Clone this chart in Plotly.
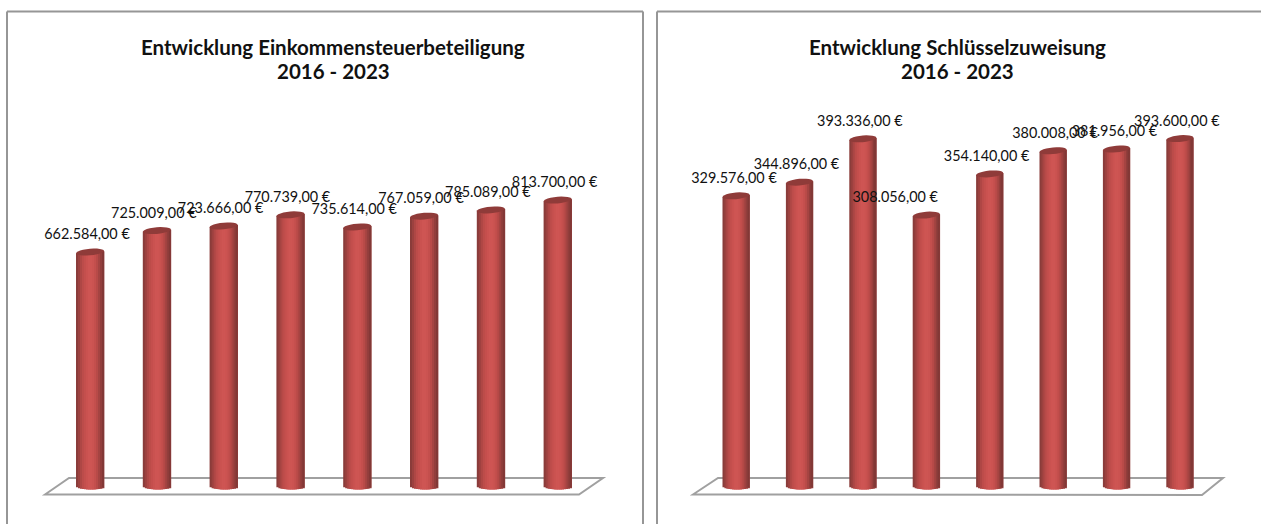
import math
import plotly.graph_objects as go

years = [2016, 2017, 2018, 2019, 2020, 2021, 2022, 2023]
# bar heights as drawn in the picture (the third left bar stands taller than its label says)
est_values = [662584, 725009, 738400, 770739, 735614, 767059, 785089, 813700]
szw_values = [329576, 344896, 393336, 308056, 354140, 380008, 381956, 393600]
est_labels = ["662.584,00 €", "725.009,00 €", "723.666,00 €", "770.739,00 €",
              "735.614,00 €", "767.059,00 €", "785.089,00 €", "813.700,00 €"]
szw_labels = ["329.576,00 €", "344.896,00 €", "393.336,00 €", "308.056,00 €",
              "354.140,00 €", "380.008,00 €", "381.956,00 €", "393.600,00 €"]
titles = [["Entwicklung Einkommensteuerbeteiligung", "2016 - 2023"],
          ["Entwicklung Schlüsselzuweisung", "2016 - 2023"]]

W, H = 1261, 524
FONT = "Lato"
GREY = "#a0a0a0"
FRAME = "#969696"
CAP = "#8f3b39"
TILT = 1.2
# colour across the cylinder, left edge to right edge
PROFILE = ["#8a3c3a", "#9c413f", "#ae4745", "#bc4c4a", "#c44f4d", "#ca5250", "#ce5553",
           "#ce5553", "#cb5351", "#c44f4d", "#b84a48", "#a54442", "#923e3c", "#823836"]

panels = [
    dict(vals=est_values, labels=est_labels, xa="x", ya="y", xd=[0, 0.5], x0=90, dx=66.8,
         zero=480, k=3.44e-4, barw=28, lab_dx=[-3] * 8, title_x=333),
    dict(vals=szw_values, labels=szw_labels, xa="x2", ya="y2", xd=[0.5, 1], x0=736, dx=63.4,
         zero=490.5, k=8.94e-4, barw=27, lab_dx=[-2, -3, -3, -31, -3, 2, -2, -3], title_x=957.5),
]

fig = go.Figure()
shapes = []
annotations = []

for idx, p in enumerate(panels):
    k = p["k"]
    n = len(PROFILE)
    w = p["barw"] / p["dx"]
    base_center = (p["zero"] - 486) / k
    drop = 3.5 / k
    for i, col in enumerate(PROFILE):
        t = (i + 0.5) / n * 2 - 1
        b = base_center - drop * math.sqrt(max(0, 1 - t * t))
        slice_w = w / n * (2.2 if i < n - 1 else 1.0)
        fig.add_bar(x=years, y=[v + TILT * t / k - b for v in p["vals"]], base=[b] * len(years),
                    width=slice_w, offset=-w / 2 + i * w / n,
                    marker=dict(color=col, line=dict(width=0)),
                    xaxis=p["xa"], yaxis=p["ya"], showlegend=False, hoverinfo="skip")
    for yr, v in zip(years, p["vals"]):
        pts = []
        for a in range(0, 360, 15):
            c, s = math.cos(math.radians(a)), math.sin(math.radians(a))
            pts.append("%.5f,%.1f" % (yr + w / 2 * c, v + (3.3 * s + TILT * c) / k))
        shapes.append(dict(type="path", xref=p["xa"], yref=p["ya"], layer="above",
                           path="M " + " L ".join(pts) + " Z",
                           fillcolor=CAP, line=dict(width=0)))
    fig.add_scatter(x=[yr + d / p["dx"] for yr, d in zip(years, p["lab_dx"])],
                    y=[v + 16.5 / k for v in p["vals"]],
                    text=p["labels"], mode="text", textposition="middle center",
                    textfont=dict(family=FONT, size=14.4, color="#111111"),
                    xaxis=p["xa"], yaxis=p["ya"], showlegend=False, cliponaxis=False, hoverinfo="skip")
    for line, py in zip(titles[idx], (47, 71)):
        annotations.append(dict(text="<b>%s</b>" % line, xref="paper", yref="paper",
                                x=p["title_x"] / W, y=1 - py / H, xanchor="center", yanchor="middle",
                                showarrow=False, align="center",
                                font=dict(family=FONT, size=20.5, color="#111111")))

def ppath(pts):
    return "M " + " L ".join("%.5f,%.5f" % (x / W, 1 - y / H) for x, y in pts) + " Z"

for pts in ([(45, 494.5), (69, 478), (603, 478), (579, 494.5)],
            [(693, 494.5), (718, 478), (1223, 478), (1202, 495)]):
    shapes.append(dict(type="path", xref="paper", yref="paper", layer="below", path=ppath(pts),
                       line=dict(color=GREY, width=2), fillcolor="rgba(0,0,0,0)"))

def pline(x0, y0, x1, y1):
    return dict(type="line", xref="paper", yref="paper", layer="below",
                x0=x0 / W, y0=1 - y0 / H, x1=x1 / W, y1=1 - y1 / H,
                line=dict(color=FRAME, width=2))

shapes += [pline(7, 11.5, 643, 11.5), pline(7, 11.5, 7, H), pline(643, 11.5, 643, H),
           pline(657, 11.5, W, 11.5), pline(657, 11.5, 657, H)]

layout_axes = {}
for p, xn, yn in zip(panels, ["xaxis", "xaxis2"], ["yaxis", "yaxis2"]):
    x_left = p["xd"][0] * W
    x_right = p["xd"][1] * W
    layout_axes[xn] = dict(domain=p["xd"], visible=False, anchor=p["ya"],
                           range=[years[0] + (x_left - p["x0"]) / p["dx"],
                                  years[0] + (x_right - p["x0"]) / p["dx"]])
    layout_axes[yn] = dict(domain=[0, 1], visible=False, anchor=p["xa"],
                           range=[(p["zero"] - H) / p["k"], p["zero"] / p["k"]])

fig.update_layout(width=W, height=H, margin=dict(l=0, r=0, t=0, b=0), barmode="overlay",
                  paper_bgcolor="white", plot_bgcolor="rgba(0,0,0,0)", showlegend=False,
                  shapes=shapes, annotations=annotations, **layout_axes)
fig.write_html("out.html", config=dict(displayModeBar=False),
               post_script="document.body.style.margin='0';document.body.style.overflow='hidden';")
